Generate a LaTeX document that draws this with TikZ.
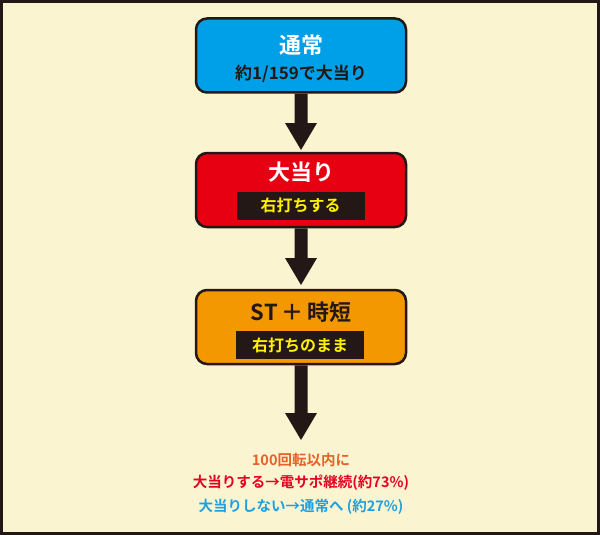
\documentclass[tikz,border=0pt]{standalone}
\usepackage{fontspec}
\usetikzlibrary{calc}
\setmainfont{Noto Sans CJK JP}[BoldFont={* Bold}]
\definecolor{bg}{HTML}{FAF5D0}
\definecolor{cblue}{HTML}{00A0E9}
\definecolor{cred}{HTML}{E60012}
\definecolor{corange}{HTML}{F39800}
\definecolor{tor}{HTML}{E8602A}
\definecolor{tred}{HTML}{E60021}
\definecolor{tblue}{HTML}{1FA0E0}
\definecolor{ink}{HTML}{231815}
\definecolor{ylw}{HTML}{FFF100}
\begin{document}
\begin{tikzpicture}[x=1pt,y=-1pt,
  box/.style={draw=ink,line width=2.5pt,rounded corners=11pt,minimum width=210pt,minimum height=74pt},
  ttl/.style={font=\bfseries\fontsize{22}{24}\selectfont},
  bar/.style={fill=ink,text=ylw,font=\bfseries\fontsize{16}{18}\selectfont,minimum width=128pt,minimum height=28pt,inner sep=0pt},
  arr/.style={draw=none,fill=ink},
  note/.style={font=\bfseries\fontsize{14.5}{16}\selectfont}]
\fill[bg] (0,0) rectangle (600,535);
\draw[ink,line width=3pt] (1.5,1.5) rectangle (598.5,533.5);
\node[box,fill=cblue] (b1) at (301,55.5) {};
\node[box,fill=cred] (b2) at (301,190) {};
\node[box,fill=corange] (b3) at (301,327) {};
\node[ttl,text=white] (t1) at (301,45) {通常};
\node[font=\bfseries\fontsize{17}{19}\selectfont,text=ink] (s1) at (301,74) {約1/159で大当り};
\node[ttl,text=white] (t2) at (301,172) {大当り};
\node[bar] (s2) at (300.5,205.5) {右打ちする};
\node[ttl,text=ink] (t3) at (301,312) {ST\,＋\,時短};
\node[bar] (s3) at (300,345) {右打ちのまま};
\coordinate (e1) at (301,150);
\coordinate (e2) at (301,285);
\coordinate (e3) at (301,440);
\foreach \a/\b in {b1/e1,b2/e2,b3/e3}{
  \fill[ink] ($(\a.south)+(-6.5,0)$) -- ($(\a.south)+(6.5,0)$) -- ($(\b)+(6.5,-27)$) -- ($(\b)+(16,-27)$) -- (\b) -- ($(\b)+(-16,-27)$) -- ($(\b)+(-6.5,-27)$) -- cycle;
}
\node[note,text=tor] (n1) at (301,460) {100回転以内に};
\node[note,text=tred] (n2) at (301,483) {大当りする→電サポ継続(約73\%)};
\node[note,text=tblue] (n3) at (301,507) {大当りしない→通常へ (約27\%)};
\end{tikzpicture}
\end{document}
